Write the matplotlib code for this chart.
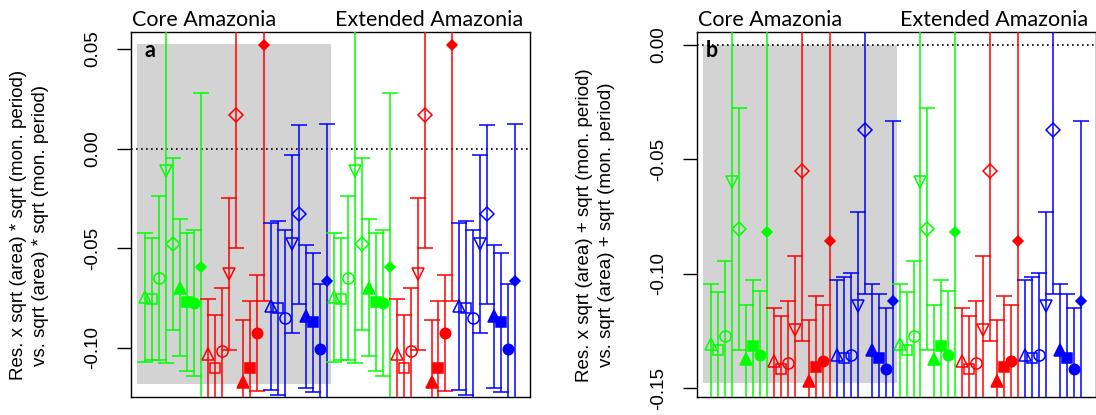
import numpy as np
import matplotlib.pyplot as plt
from matplotlib.patches import Rectangle

groups = ["Core Amazonia", "Extended Amazonia"]
colours = ["#00FF00", "#FF0000", "#0000FF"]
# nine symbols per colour block: open triangle, square, circle, down triangle,
# diamond, then filled triangle, square, circle, small diamond
symbols = ["^", "s", "o", "v", "D", "^", "s", "o", "D"]
filled = [False, False, False, False, False, True, True, True, True]
sizes = [8.5, 7.0, 8.0, 8.5, 7.2, 8.5, 6.5, 7.5, 4.8]

# panel a: estimate and half width of the interval, core group
a_est_core = [-0.0747, -0.0755, -0.0650, -0.0112, -0.0479, -0.0698, -0.0770, -0.0776, -0.0594,
              -0.1030, -0.1100, -0.1016, -0.0628, 0.0171, -0.1172, -0.1101, -0.0926, 0.0519,
              -0.0793, -0.0802, -0.0850, -0.0477, -0.0330, -0.0843, -0.0873, -0.1008, -0.0665]
a_half_core = [0.0325, 0.0308, 0.0410, 0.0964, 0.0434, 0.0343, 0.0348, 0.0366, 0.0875,
               0.0275, 0.0263, 0.0316, 0.0382, 0.0668, 0.0313, 0.0334, 0.0293, 0.1286,
               0.0421, 0.0437, 0.0440, 0.0447, 0.0450, 0.0358, 0.0349, 0.0327, 0.0787]
# extended group reads the same as the core group
a_est_ext = list(a_est_core)
a_half_ext = list(a_half_core)

# panel b
b_est_core = [-0.1305, -0.1330, -0.1269, -0.0600, -0.0804, -0.1373, -0.1315, -0.1355, -0.0817,
              -0.1380, -0.1414, -0.1388, -0.1243, -0.0550, -0.1468, -0.1407, -0.1380, -0.0858,
              -0.1352, -0.1366, -0.1352, -0.1141, -0.0371, -0.1333, -0.1366, -0.1417, -0.1119]
b_half_core = [0.0262, 0.0251, 0.0324, 0.1000, 0.0528, 0.0237, 0.0288, 0.0279, 0.0950,
               0.0233, 0.0230, 0.0269, 0.0323, 0.0744, 0.0266, 0.0310, 0.0245, 0.0950,
               0.0327, 0.0353, 0.0356, 0.0410, 0.0715, 0.0289, 0.0280, 0.0269, 0.0788]
b_est_ext = list(b_est_core)
b_half_ext = list(b_half_core)

a_ticks = [0.05, 0.00, -0.05, -0.10]
b_ticks = [0.00, -0.05, -0.10, -0.15]
a_ylab = ["Res. x sqrt (area) * sqrt (mon. period)", "vs. sqrt (area) * sqrt (mon. period)"]
b_ylab = ["Res. x sqrt (area) + sqrt (mon. period)", "vs. sqrt (area) + sqrt (mon. period)"]

W, H = 1096, 415
fig = plt.figure(figsize=(W / 100, H / 100), dpi=100)


def panel(left_px, width_px, est, half, ticks, ylim, shade, letter, ylab):
    ax = fig.add_axes([left_px / W, 1 - 396.7 / H, width_px / W, 365 / H])
    x = np.arange(1, len(est) + 1)
    ax.add_patch(Rectangle((shade[0], shade[2]), shade[1] - shade[0], shade[3] - shade[2],
                           facecolor="#D3D3D3", edgecolor="none", zorder=0))
    ax.axhline(0, color="black", ls=(0, (1, 2)), lw=1.2, zorder=1)
    for i in range(len(est)):
        c = colours[(i // 9) % 3]
        k = i % 9
        ax.errorbar(x[i], est[i], yerr=half[i], fmt=symbols[k], color=c,
                    mfc=c if filled[k] else "none", mec=c, ms=sizes[k], mew=1.1,
                    elinewidth=1.1, capsize=5.8, capthick=1.1, zorder=3)
    ax.set_xlim(-1.12, 56.12)
    ax.set_ylim(*ylim)
    ax.set_xticks([])
    ax.set_yticks(ticks)
    ax.set_yticklabels(["%.2f" % t for t in ticks], rotation=90, va="center",
                       fontsize=13.5, family="Liberation Sans")
    ax.tick_params(axis="y", length=10, width=1.0, pad=11)
    for s in ax.spines.values():
        s.set_linewidth(1.0)
    ax.text(0.004, 1.0156, groups[0], transform=ax.transAxes, ha="left", va="baseline",
            fontsize=15.5, family="Lato")
    ax.text(0.982, 1.0156, groups[1], transform=ax.transAxes, ha="right", va="baseline",
            fontsize=15.5, family="Lato")
    ax.text(letter[1], 0.93, letter[0], transform=ax.transAxes, ha="left", va="baseline",
            fontsize=15.5, fontweight="bold", family="Lato")
    for j, line in enumerate(ylab):
        fig.text((left_px - 112.5 + 22 * j) / W, 1 - 225 / H, line, rotation=90,
                 ha="center", va="center", fontsize=13.5, family="Liberation Sans")
    return ax


panel(130.7, 399.3, a_est_core + a_est_ext, a_half_core + a_half_ext, a_ticks,
      (-0.1246, 0.0587), (-0.17, 27.6, -0.1182, 0.0525), ("a", 0.034), a_ylab)
panel(696.7, 398.8, b_est_core + b_est_ext, b_half_core + b_half_ext, b_ticks,
      (-0.1536, 0.0058), (-0.17, 27.67, -0.1478, 0.0), ("b", 0.023), b_ylab)

fig.savefig("out.png", dpi=100)
